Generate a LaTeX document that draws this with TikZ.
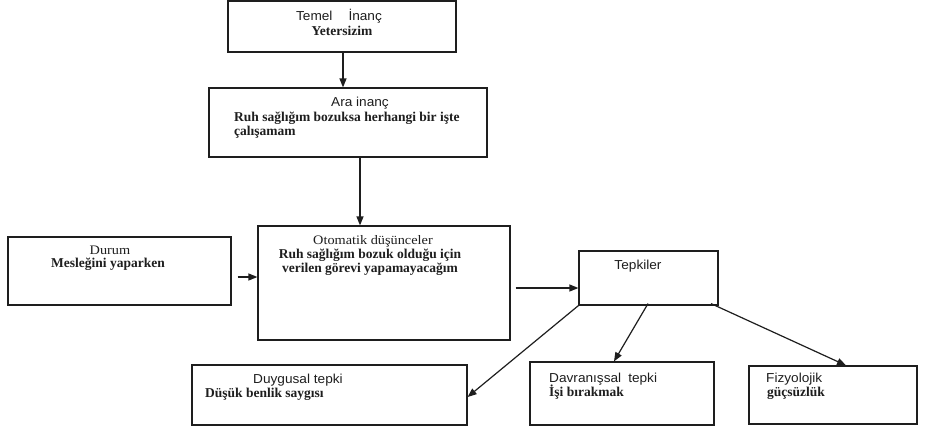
\documentclass[tikz,border=0pt]{standalone}
\usepackage{fontspec}
\setmainfont{Liberation Serif}
\newfontfamily\regserif{Liberation Serif}[FakeStretch=1.1]
\setsansfont{Liberation Sans}[FakeStretch=1.05]
\usetikzlibrary{arrows.meta,calc}
\definecolor{ink}{HTML}{1E1E1E}
\begin{document}
\begin{tikzpicture}[x=1pt,y=-1pt,
  box/.style={draw=ink, line width=1.2pt, inner sep=0pt, fill=white},
  lbl/.style={inner sep=0pt, text=ink, font=\fontsize{13}{14}\selectfont\regserif},
  sanslbl/.style={lbl, font=\fontsize{13}{14}\selectfont\sffamily},
  boldlbl/.style={lbl, font=\fontsize{13.5}{14}\selectfont\rmfamily\bfseries},
  arr/.style={draw=ink, line width=1.2pt, -{Triangle[length=9pt,width=7pt]}}]
\useasboundingbox[fill=white] (0,0) rectangle (929,431);
% boxes
\node[box, minimum width=228pt, minimum height=51pt] (temel) at (342,26.5) {};
\node[box, minimum width=278pt, minimum height=69pt] (ara) at (348,122.5) {};
\node[box, minimum width=223pt, minimum height=68pt] (durum) at (119.5,271) {};
\node[box, minimum width=252pt, minimum height=114pt] (oto) at (384,283) {};
\node[box, minimum width=139pt, minimum height=54pt] (tep) at (648.5,278) {};
\node[box, minimum width=275pt, minimum height=60pt] (duy) at (329.5,395) {};
\node[box, minimum width=184pt, minimum height=63pt] (dav) at (622,393.5) {};
\node[box, minimum width=168pt, minimum height=58pt] (fiz) at (833,395) {};
% texts
\node[sanslbl, anchor=base] (t1a) at (339,20) {Temel\hspace{16pt}İnanç};
\node[boldlbl, anchor=base] (t1b) at (342,35) {Yetersizim};
\node[sanslbl, anchor=base] (t2a) at (360,106) {Ara inanç};
\node[boldlbl, anchor=base west] (t2b) at (234,121) {Ruh sağlığım bozuksa herhangi bir işte};
\node[boldlbl, anchor=base west] (t2c) at (234,135) {çalışamam};
\node[lbl, anchor=base] (t3a) at (110,254) {Durum};
\node[boldlbl, anchor=base] (t3b) at (108,267) {Mesleğini yaparken};
\node[lbl, anchor=base] (t4a) at (373,244) {Otomatik düşünceler};
\node[boldlbl, anchor=base] (t4b) at (370,258) {Ruh sağlığım bozuk olduğu için};
\node[boldlbl, anchor=base] (t4c) at (370,272) {verilen görevi yapamayacağım};
\node[sanslbl, anchor=base] (t5a) at (638,269) {Tepkiler};
\node[sanslbl, anchor=base west] (t6a) at (253,383) {Duygusal tepki};
\node[boldlbl, anchor=base west] (t6b) at (205,397) {Düşük benlik saygısı};
\node[sanslbl, anchor=base west] (t7a) at (549,382) {Davranışsal\hspace{7pt}tepki};
\node[boldlbl, anchor=base west] (t7b) at (549,396) {İşi bırakmak};
\node[sanslbl, anchor=base west] (t8a) at (766,382) {Fizyolojik};
\node[boldlbl, anchor=base west] (t8b) at (767,396) {güçsüzlük};
% connectors
\draw[arr] ([xshift=1pt]temel.south) -- ([xshift=1pt]ara.north -| temel.south);
\draw[arr] ([xshift=12pt]ara.south) -- ([xshift=12pt]oto.north -| ara.south);
\draw[arr] ($(durum.east)+(6,6)$) -- ($(oto.west)+(0,-6)$);
\draw[arr] ($(oto.east)+(5,5)$) -- ($(tep.west)+(0,10)$);
\draw[arr] (tep.south west) -- ($(duy.east)+(0,2)$);
\draw[arr] ($(tep.south)+(-0.5,-2)$) -- ($(dav.north)+(-8,0)$);
\draw[arr] ($(tep.south)+(62.5,-2)$) -- ($(fiz.north)+(13,0)$);
\end{tikzpicture}
\end{document}
